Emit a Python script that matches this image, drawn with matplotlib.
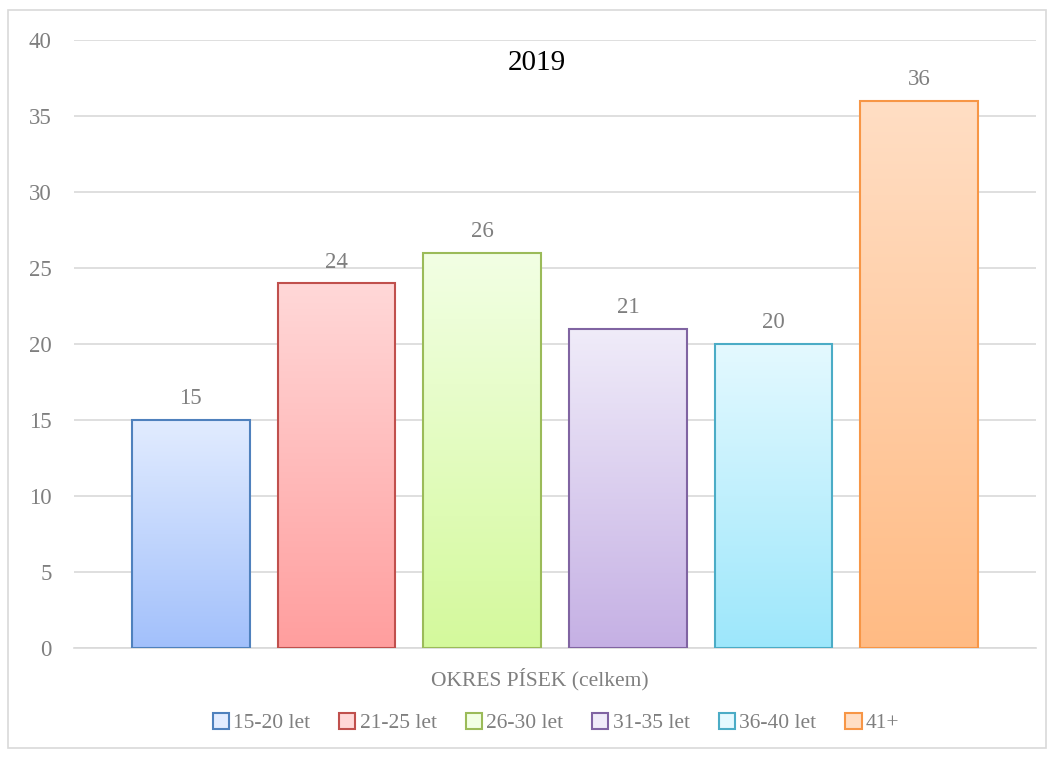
import matplotlib
matplotlib.use('Agg')

import numpy as np
import matplotlib.pyplot as plt
from matplotlib.patches import Rectangle
from matplotlib.colors import LinearSegmentedColormap

# Data
kategorie = 'OKRES PÍSEK (celkem)'
skupiny = ['15-20 let', '21-25 let', '26-30 let', '31-35 let', '36-40 let', '41+']
hodnoty = [15, 24, 26, 21, 20, 36]
titulek = '2019'

# Colours: (top, bottom, edge)
barvy = [
    ('#e2ecff', '#a2c0fb', '#4f81bd'),
    ('#ffd8d8', '#ff9e9e', '#c0504d'),
    ('#f2ffe4', '#d4f99c', '#9bbb59'),
    ('#f0ecf9', '#c5b0e4', '#8064a2'),
    ('#e4f9ff', '#9de7fb', '#4bacc6'),
    ('#ffdec4', '#ffbb84', '#f79646'),
]

plt.rcParams['font.family'] = ['Liberation Serif', 'DejaVu Serif']
seda = '#7f7f7f'

fig = plt.figure(figsize=(10.54, 7.60), dpi=100)
ax = fig.add_axes([74 / 1054, 1 - 648 / 760, (1036 - 74) / 1054, (648 - 40) / 760])

# chart border
fig.patches.append(Rectangle((8 / 1054, 1 - 748 / 760), 1038 / 1054, 738 / 760,
                             transform=fig.transFigure, fill=False,
                             edgecolor='#d9d9d9', linewidth=1.2))

sirka = 1.0
krok = 146 / 118
pozice = (np.arange(len(hodnoty)) - 2.5) * krok
okraj = 2.5 * krok + 0.5 + 58 / 118

grad = np.linspace(0, 1, 256).reshape(-1, 1)
for x, h, (top, bot, edge), lab in zip(pozice, hodnoty, barvy, skupiny):
    cmap = LinearSegmentedColormap.from_list('g', [bot, top])
    ax.imshow(grad, cmap=cmap, aspect='auto', origin='lower',
              extent=(x - sirka / 2, x + sirka / 2, 0, h), zorder=2)
    ax.bar(x, h, width=sirka, facecolor='none', edgecolor=edge, linewidth=1.5, zorder=3)
    ax.text(x, h + 0.7, str(h), ha='center', va='bottom', color=seda, fontsize=16.5)
    ax.bar(0, 0, width=0, facecolor=top, edgecolor=edge, linewidth=1.5, label=lab)

ax.set_xlim(-okraj, okraj)
ax.set_ylim(0, 40)
ax.set_yticks(range(0, 41, 5))
ax.set_xticks([])
ax.yaxis.grid(True, color='#d9d9d9', linewidth=1.2)
ax.set_axisbelow(True)
for s in ['top', 'right', 'left']:
    ax.spines[s].set_visible(False)
ax.spines['bottom'].set_color('#d9d9d9')
ax.spines['bottom'].set_linewidth(1.2)
ax.tick_params(axis='y', length=0, labelcolor=seda, labelsize=16.5, pad=16)

fig.text(537 / 1054, 1 - 63 / 760, titulek, ha='center', va='center',
         fontsize=21, color='black')

fig.text(540 / 1054, 1 - 679 / 760, kategorie, ha='center', va='center',
         color=seda, fontsize=15.5)

handles, labels = ax.get_legend_handles_labels()
leg = fig.legend(handles, labels, loc='center', bbox_to_anchor=(556 / 1054, 1 - 723 / 760),
                 ncol=6, frameon=False, fontsize=15.5, handlelength=0.75, handleheight=0.75,
                 handletextpad=0.2, columnspacing=1.35, labelcolor=seda)

fig.savefig('out.png', dpi=100)
